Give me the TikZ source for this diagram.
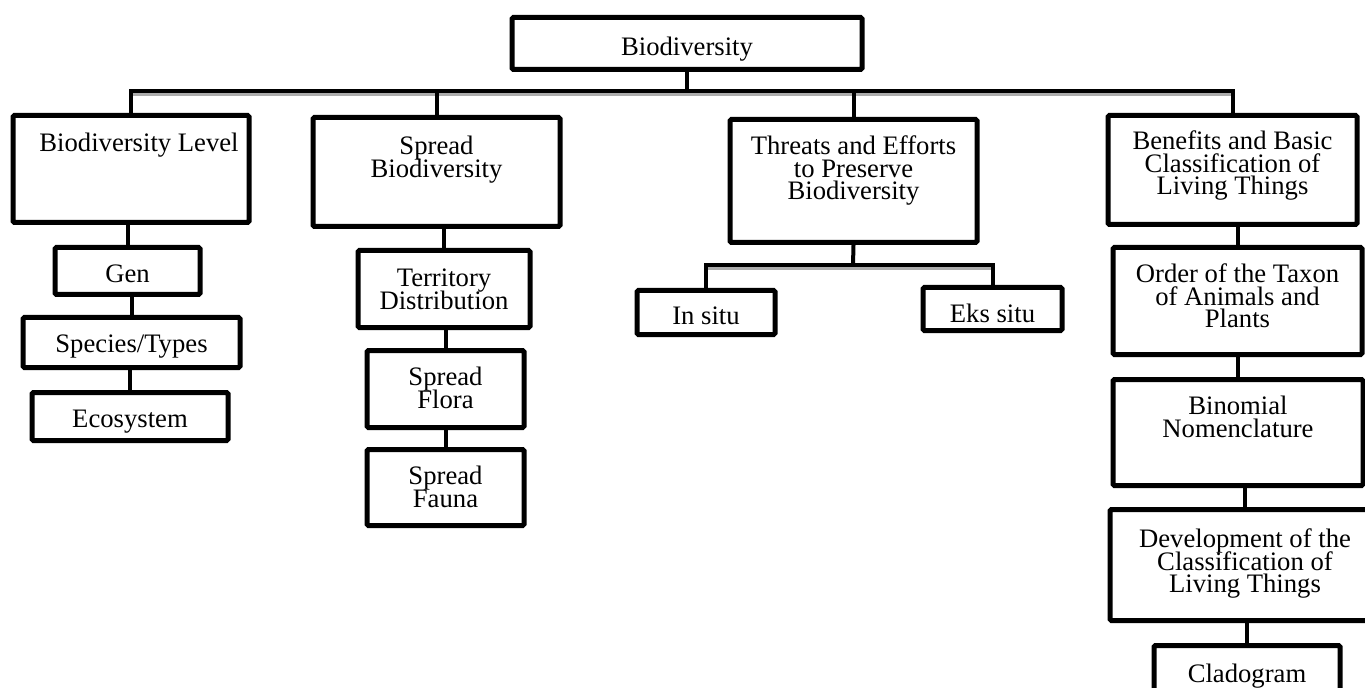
\documentclass[tikz,border=0pt]{standalone}
\usepackage{fontspec}
\setmainfont{Liberation Serif}
\lineskiplimit=-50pt

\tikzset{
  box/.style={draw, line width=3.75pt, rounded corners=1pt, inner sep=0pt,
    anchor=north, align=center, text height=26.25pt,
    font=\fontsize{20pt}{16.9pt}\selectfont},
  link/.style={line width=3pt},
  barshade/.style={draw=gray!65, line width=2.25pt},
}

\begin{document}
\begin{tikzpicture}[x=0.75pt, y=-0.75pt]
    \useasboundingbox (0,0) rectangle (1365,688);

    % ================= root =================
    \node[box, minimum width=262.5pt, text height=28.5pt, text depth=10.5pt] (bio) at (687,15) {Biodiversity};

    % ================= first level =================
    \node[box, minimum width=177pt, text height=27pt, text depth=53.25pt] (lvl) at (131,113) {\hspace*{12pt}Biodiversity Level};
    \node[box, minimum width=185.25pt, text height=44.65pt, text depth=37.1pt] (spr) at (436.5,115) {Spread\\Biodiversity};
    \node[box, minimum width=185.25pt, text height=60.05pt, text depth=32.2pt] (thr) at (853.5,117) {Threats and Efforts\\to Preserve\\Biodiversity};
    \node[box, minimum width=186.75pt, text height=59.3pt, text depth=22.45pt] (ben) at (1232.5,113) {Benefits and Basic\\Classification of\\Living Things};

    % ================= levels column =================
    \node[box, minimum width=108.75pt, text depth=9pt] (gen) at (127.5,245) {Gen};
    \node[box, minimum width=162.75pt, text depth=11.25pt] (spc) at (131.5,315) {Species/Types};
    \node[box, minimum width=147pt, text depth=9.75pt] (eco) at (130,390) {Ecosystem};

    % ================= spread column =================
    \node[box, minimum width=129pt, text height=43.9pt, text depth=13.85pt] (ter) at (444,248) {Territory\\Distribution};
    \node[box, minimum width=117.75pt, text height=43.15pt, text depth=14.6pt] (flo) at (445.5,348) {Spread\\Flora};
    \node[box, minimum width=117.75pt, text height=43.15pt, text depth=13.85pt] (fau) at (445.5,447) {Spread\\Fauna};

    % ================= threats column =================
    \node[box, minimum width=103.5pt, text height=25.5pt, text depth=7.5pt] (ins) at (706,288) {In situ};
    \node[box, minimum width=104.25pt, text depth=6pt] (eks) at (992.5,285) {Eks situ};

    % ================= classification column =================
    \node[box, minimum width=186.75pt, text height=60.05pt, text depth=20.2pt] (ord) at (1237.5,245) {Order of the Taxon\\of Animals and\\Plants};
    \node[box, minimum width=187.5pt, text height=43.15pt, text depth=36.35pt] (bin) at (1238,377) {Binomial\\Nomenclature};
    \node[box, minimum width=202.5pt, text height=62.3pt, text depth=20.95pt] (dev) at (1245,507) {Development of the\\Classification of\\Living Things};
    \node[box, minimum width=139.5pt, text height=27.75pt, text depth=17.25pt] (cla) at (1247,643) {Cladogram};

    % ================= connectors =================
    \coordinate (hub) at (687,91);
    \coordinate (sub) at (853,265);

    % bar shadows
    \draw[barshade] ([yshift=-2.6pt]lvl.north |- hub) -- ([yshift=-2.6pt]ben.north |- hub);
    \draw[barshade] ([yshift=-2.6pt]ins.north |- sub) -- ([yshift=-2.6pt]eks.north |- sub);

    % main bar
    \draw[link] (lvl.north) |- (hub) -| (ben.north);
    \draw[link] (bio.south) -- (hub);
    \draw[link] (spr.north) -- (spr.north |- hub);
    \draw[link] (thr.north) -- (thr.north |- hub);

    % threats bar
    \draw[link] (ins.north) |- (sub) -| (eks.north);
    \draw[link] (thr.south) -- (sub);

    % columns
    \draw[link] (gen.north) -- (gen.north |- lvl.south);
    \draw[link] (spc.north) -- (spc.north |- gen.south);
    \draw[link] (eco.north) -- (eco.north |- spc.south);
    \draw[link] (ter.north) -- (ter.north |- spr.south);
    \draw[link] (flo.north) -- (flo.north |- ter.south);
    \draw[link] (fau.north) -- (fau.north |- flo.south);
    \draw[link] (ord.north) -- (ord.north |- ben.south);
    \draw[link] (bin.north) -- (bin.north |- ord.south);
    \draw[link] (dev.north) -- (dev.north |- bin.south);
    \draw[link] (cla.north) -- (cla.north |- dev.south);

\end{tikzpicture}
\end{document}
